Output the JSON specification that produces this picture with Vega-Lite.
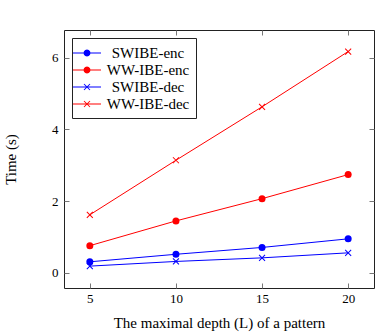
{
  "$schema": "https://vega.github.io/schema/vega-lite/v6.json",
  "width": 310,
  "height": 258,
  "autosize": {"type": "none"},
  "padding": {"left": 64, "top": 30, "right": 4, "bottom": 46},
  "background": "white",
  "config": {
    "view": {"stroke": "#222", "strokeWidth": 1},
    "font": "Liberation Serif",
    "axis": {
      "grid": false,
      "domain": false,
      "tickColor": "#777",
      "tickSize": 5,
      "offset": -5,
      "labelFont": "Liberation Serif",
      "labelFontSize": 13,
      "labelColor": "#000",
      "titleFont": "Liberation Serif",
      "titleFontSize": 15,
      "titleFontWeight": "normal",
      "titleColor": "#000"
    },
    "legend": {
      "labelFont": "Liberation Serif",
      "labelFontSize": 15,
      "labelColor": "#000"
    }
  },
  "data": {
    "values": [
      {"L": 5, "series": "SWIBE-enc", "time": 0.31},
      {"L": 10, "series": "SWIBE-enc", "time": 0.52},
      {"L": 15, "series": "SWIBE-enc", "time": 0.71},
      {"L": 20, "series": "SWIBE-enc", "time": 0.95},
      {"L": 5, "series": "WW-IBE-enc", "time": 0.76},
      {"L": 10, "series": "WW-IBE-enc", "time": 1.45},
      {"L": 15, "series": "WW-IBE-enc", "time": 2.07},
      {"L": 20, "series": "WW-IBE-enc", "time": 2.74},
      {"L": 5, "series": "SWIBE-dec", "time": 0.19},
      {"L": 10, "series": "SWIBE-dec", "time": 0.32},
      {"L": 15, "series": "SWIBE-dec", "time": 0.42},
      {"L": 20, "series": "SWIBE-dec", "time": 0.56},
      {"L": 5, "series": "WW-IBE-dec", "time": 1.62},
      {"L": 10, "series": "WW-IBE-dec", "time": 3.14},
      {"L": 15, "series": "WW-IBE-dec", "time": 4.63},
      {"L": 20, "series": "WW-IBE-dec", "time": 6.17}
    ]
  },
  "layer": [
    {
      "mark": {"type": "line", "strokeWidth": 1},
      "encoding": {
        "x": {"field": "L", "type": "quantitative", "scale": {"domain": [3.5, 21.5], "nice": false, "zero": false}, "axis": {"orient": "bottom", "values": [5, 10, 15, 20], "title": "The maximal depth (L) of a pattern", "labelPadding": 4, "titlePadding": 10}},
        "y": {"field": "time", "type": "quantitative", "scale": {"domain": [-0.42, 6.77], "nice": false, "zero": false}, "axis": {"orient": "left", "values": [0, 2, 4, 6], "title": "Time (s)", "labelPadding": 6, "titlePadding": 33}},
        "stroke": {
          "field": "series", "type": "nominal",
          "scale": {"domain": ["SWIBE-enc", "SWIBE-dec", "WW-IBE-enc", "WW-IBE-dec"], "range": ["#0000ff", "#0000ff", "#ff0000", "#ff0000"]},
          "legend": null
        }
      }
    },
    {
      "transform": [{"filter": {"field": "series", "oneOf": ["SWIBE-enc", "WW-IBE-enc"]}}],
      "mark": {"type": "point", "shape": "circle", "filled": true, "opacity": 1, "size": 49, "strokeWidth": 0},
      "encoding": {
        "x": {"field": "L", "type": "quantitative", "axis": null},
        "y": {"field": "time", "type": "quantitative", "axis": null},
        "fill": {
          "field": "series", "type": "nominal",
          "scale": {"domain": ["SWIBE-enc", "SWIBE-dec", "WW-IBE-enc", "WW-IBE-dec"], "range": ["#0000ff", "#0000ff", "#ff0000", "#ff0000"]},
          "legend": null
        }
      }
    },
    {
      "transform": [{"filter": {"field": "series", "oneOf": ["SWIBE-dec", "WW-IBE-dec"]}}],
      "mark": {"type": "point", "shape": "M-0.294,-0.372L0.372,0.294L0.294,0.372L-0.372,-0.294Z M-0.294,0.372L-0.372,0.294L0.294,-0.372L0.372,-0.294Z", "filled": true, "opacity": 1, "size": 324, "strokeWidth": 0},
      "encoding": {
        "x": {"field": "L", "type": "quantitative", "axis": null},
        "y": {"field": "time", "type": "quantitative", "axis": null},
        "fill": {"field": "series", "type": "nominal", "legend": null}
      }
    },
    {
      "transform": [{"filter": "false"}],
      "mark": {"type": "point", "filled": true, "opacity": 1, "strokeWidth": 0},
      "encoding": {
        "x": {"field": "L", "type": "quantitative", "axis": {"orient": "top", "values": [5, 10, 15, 20], "labels": false, "title": "", "ticks": true, "domain": false, "grid": false}},
        "y": {"field": "time", "type": "quantitative", "axis": {"orient": "right", "values": [0, 2, 4, 6], "labels": false, "title": "", "ticks": true, "domain": false, "grid": false}},
        "color": {
          "field": "series", "type": "nominal",
          "scale": {"domain": ["SWIBE-enc", "WW-IBE-enc", "SWIBE-dec", "WW-IBE-dec"], "range": ["#0000ff", "#ff0000", "#0000ff", "#ff0000"]}
        },
        "shape": {
          "field": "series", "type": "nominal",
          "scale": {
            "domain": ["SWIBE-enc", "WW-IBE-enc", "SWIBE-dec", "WW-IBE-dec"],
            "range": [
              "M-1.556,-0.056H1.556V0.056H-1.556Z M0.389,0L0.337,0.195L0.195,0.337L0,0.389L-0.195,0.337L-0.337,0.195L-0.389,0L-0.337,-0.195L-0.195,-0.337L0,-0.389L0.195,-0.337L0.337,-0.195Z",
              "M-1.556,-0.056H1.556V0.056H-1.556Z M0.389,0L0.337,0.195L0.195,0.337L0,0.389L-0.195,0.337L-0.337,0.195L-0.389,0L-0.337,-0.195L-0.195,-0.337L0,-0.389L0.195,-0.337L0.337,-0.195Z",
              "M-1.556,-0.056H1.556V0.056H-1.556Z M-0.294,-0.372L0.372,0.294L0.294,0.372L-0.372,-0.294Z M-0.294,0.372L-0.372,0.294L0.294,-0.372L0.372,-0.294Z",
              "M-1.556,-0.056H1.556V0.056H-1.556Z M-0.294,-0.372L0.372,0.294L0.294,0.372L-0.372,-0.294Z M-0.294,0.372L-0.372,0.294L0.294,-0.372L0.372,-0.294Z"
            ]
          },
          "legend": {
            "title": null,
            "orient": "top-left",
            "offset": 8,
            "symbolSize": 324,
            "symbolOpacity": 1,
            "symbolStrokeWidth": 0,
            "labelAlign": "center",
            "labelOffset": 52,
            "rowPadding": 0,
            "padding": 6,
            "strokeColor": "#222",
            "fillColor": "white"
          }
        }
      }
    }
  ],
  "resolve": {"axis": {"x": "independent", "y": "independent"}}
}
